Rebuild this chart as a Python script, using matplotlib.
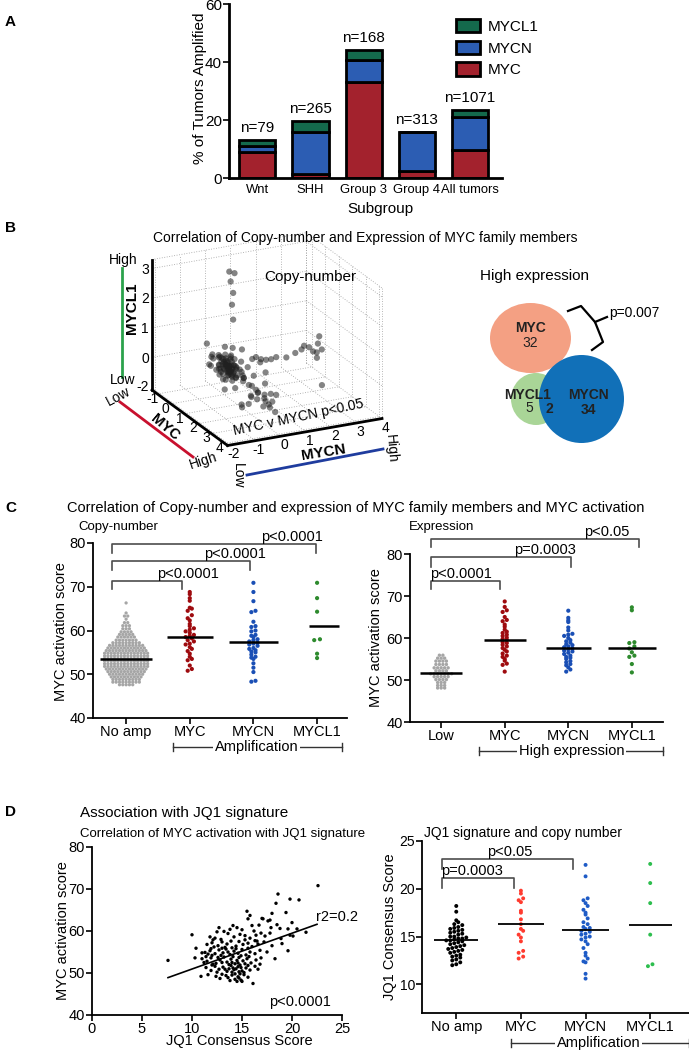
import numpy as np
import matplotlib
matplotlib.use('Agg')
import matplotlib.pyplot as plt
from matplotlib.patches import Ellipse, Patch

plt.rcParams['font.family'] = ['Liberation Sans', 'DejaVu Sans']
plt.rcParams['axes.unicode_minus'] = False

# ---------------- data ----------------
# A: % of tumours amplified per subgroup
subgroups = ['Wnt', 'SHH', 'Group 3', 'Group 4', 'All tumors']
n_tumors = [79, 265, 168, 313, 1071]
amp_myc = [9.0, 1.5, 33.2, 2.4, 9.6]
amp_mycn = [2.1, 14.4, 7.5, 13.5, 11.5]
amp_mycl1 = [2.0, 3.8, 3.4, 0.0, 2.3]

# B: copy-number (MYC, MYCN, MYCL1) per tumour
cn_points = [
    (0.2, 0.1, 3.1), (0.4, 0.2, 3.1), (0.3, 0.1, 2.8), (0.3, 0.2, 2.4), (0.4, 0.1, 2.05), (0.3, 0.2, 1.5),
    (0.3, 1.3, 0.0), (0.3, 1.5, -0.05), (0.3, 1.7, -0.06), (0.3, 1.9, -0.02), (0.3, 2.3, -0.09),
    (0.4, 2.6, 0.05), (0.3, 2.9, 0.09), (0.3, 3.0, 0.2), (0.3, 3.2, 0.12), (0.4, 3.3, 0.0),
    (0.3, 3.5, -0.1), (0.2, 3.6, 0.15), (0.3, 3.7, -0.03), (0.3, 3.6, 0.43), (0.5, 3.4, -0.2),
    (2.0, 2.8, -0.53),
    (2.5, 0.0, -0.2), (2.8, 0.1, -0.3), (3.0, 0.0, -0.1), (3.2, 0.2, -0.3), (3.4, 0.0, -0.4),
    (3.1, -0.1, -0.45), (2.7, 0.2, -0.45), (3.6, 0.1, -0.5), (2.9, 0.3, -0.15), (2.4, -0.2, -0.35),
    (3.3, 0.3, -0.05), (3.5, -0.1, -0.25),
    (0.0, 0.0, 0.0), (0.2, 0.1, -0.1), (0.4, -0.1, -0.15), (0.1, 0.2, 0.1), (0.3, 0.0, -0.25),
    (0.5, 0.1, 0.05), (-0.2, 0.0, -0.05), (0.0, -0.2, -0.2), (0.6, 0.0, -0.3), (0.2, 0.3, -0.1),
    (-0.1, 0.1, 0.2), (0.4, 0.2, 0.2), (0.7, -0.1, -0.05), (0.1, -0.1, -0.35), (0.3, 0.2, -0.3),
    (-0.3, 0.2, -0.2), (0.8, 0.1, -0.2), (0.5, -0.2, -0.4), (0.0, 0.3, -0.3), (-0.4, 0.0, 0.1),
    (0.9, 0.0, 0.05), (0.2, -0.3, 0.0), (0.6, 0.3, -0.1), (-0.2, -0.2, -0.3), (0.3, 0.1, 0.25),
    (0.1, 0.0, -0.1), (0.4, 0.0, 0.0), (0.2, 0.1, -0.2), (0.0, 0.1, -0.15), (0.35, -0.05, 0.1),
    (-0.5, 0.1, 0.0), (-0.6, -0.2, -0.3), (-0.5, 0.3, 0.3), (1.0, 0.2, -0.15), (-0.3, -0.3, 0.2),
    (0.7, 0.3, 0.2), (0.15, 0.05, -0.05), (0.25, -0.15, -0.1), (0.45, 0.15, -0.2), (-0.15, 0.15, 0.05),
    (0.05, 0.05, 0.05), (0.1, -0.05, -0.2), (0.3, 0.05, -0.05), (0.5, 0.0, -0.15), (-0.1, 0.0, -0.1),
    (0.2, 0.2, 0.05), (0.35, 0.1, -0.35), (0.55, 0.05, -0.25), (0.0, -0.1, 0.15), (-0.25, 0.1, 0.0),
    (0.15, -0.2, -0.25), (0.4, 0.25, -0.05), (0.6, -0.05, 0.1), (0.25, 0.0, 0.1), (-0.05, 0.2, -0.25),
    (0.45, -0.1, -0.3), (0.7, 0.1, -0.3), (0.1, 0.15, -0.3), (-0.2, -0.1, 0.1), (0.3, -0.2, -0.45),
    (0.05, 0.25, 0.2), (0.5, 0.2, -0.4), (0.8, -0.1, -0.35), (-0.35, 0.05, -0.35), (0.65, 0.15, 0.0),
    (0.2, -0.05, 0.0), (0.4, 0.1, -0.1), (0.15, 0.1, -0.4), (-0.1, -0.15, -0.1), (0.55, -0.15, -0.05),
    (1.1, 0.2, -0.2), (1.2, -0.2, -0.45), (1.0, 0.4, 0.1), (0.8, -0.4, -0.6), (-0.3, 0.5, 0.3),
    (0.5, 0.5, -0.45), (1.3, 0.0, 0.1), (-0.8, 0.0, -0.15), (0.0, -0.5, 0.25), (0.6, -0.5, -0.15),
    (1.5, 0.3, -0.35), (1.6, -0.1, -0.1), (0.9, 0.5, -0.55), (-0.4, 0.4, -0.55), (0.2, 0.6, 0.4),
    (1.8, 0.1, -0.55), (2.0, 0.2, -0.3), (1.7, 0.4, -0.75), (2.2, -0.2, -0.65), (1.4, 0.6, -0.65),
    (2.1, 0.5, -0.1), (0.7, 0.8, -0.35), (1.9, -0.3, -0.85), (-0.9, -0.2, 0.35), (0.4, 0.9, 0.1),
    (1.2, 1.0, -0.1), (-1.1, 0.0, -0.45), (1.3, 0.0, -1.0), (0.3, 1.27, -0.1), (0.3, 1.1, 0.1),
]
cn_lims = [(-1.4, 4.2), (-2.1, 4.0), (-1.1, 3.3)]
myc_ticks = [-1, 0, 1, 2, 3, 4]
mycn_ticks = [-2, -1, 0, 1, 2, 3, 4]
mycl1_ticks = [0, 1, 2, 3]

# B: Venn of high expression
venn_counts = {'MYC': 32, 'MYCL1': 5, 'MYCL1&MYCN': 2, 'MYCN': 34}
venn_p = 'p=0.007'

# C: MYC activation score
groups_amp = ['No amp', 'MYC', 'MYCN', 'MYCL1']
groups_expr = ['Low', 'MYC', 'MYCN', 'MYCL1']
noamp_levels = [47.6, 48.2, 48.8, 49.4, 50.0, 50.6, 51.2, 51.8, 52.4, 53.0, 53.6, 54.2, 54.8, 55.4,
                56.0, 56.6, 57.2, 57.8, 58.5, 59.1, 59.7, 60.4, 61.1, 61.8, 62.6, 63.3, 64.0, 66.3]
noamp_counts = [5, 9, 9, 10, 11, 12, 13, 14, 14, 14, 14, 14, 14, 13,
                12, 11, 9, 7, 6, 5, 4, 3, 3, 2, 1, 2, 1, 1]
amp_myc_score = [68.8, 68.3, 67.4, 66.8, 65.2, 65.0, 64.5, 63.5, 62.8, 62.3, 61.5, 61.0, 60.5, 60.2,
                 59.8, 59.5, 59.0, 58.8, 58.5, 58.2, 57.8, 57.5, 57.0, 56.8, 56.2, 55.8, 55.3, 54.7,
                 54.0, 53.5, 53.2, 52.0, 51.2, 50.8]
amp_mycn_score = [70.9, 68.8, 66.7, 64.5, 64.2, 62.0, 61.0, 60.8, 60.0, 59.8, 59.0, 58.8, 58.5, 58.0,
                  57.8, 57.5, 57.2, 57.0, 56.8, 56.5, 56.0, 55.8, 55.5, 55.2, 55.0, 54.5, 54.0, 53.8,
                  53.5, 52.5, 51.5, 50.5, 48.5, 48.3]
amp_mycl1_score = [70.9, 67.4, 64.3, 58.0, 57.8, 54.7, 53.7]
amp_means = [53.5, 58.5, 57.3, 61.0]
amp_stats = [(-0.22, 0.88, 71.3, 1.8, 'p<0.0001', 0.97),
             (-0.22, 1.95, 75.9, 2.1, 'p<0.0001', 1.71),
             (-0.22, 2.98, 79.8, 2.1, 'p<0.0001', 2.60)]

low_levels = [48.1, 48.7, 49.4, 50.1, 50.8, 51.5, 52.2, 52.9, 53.7, 54.5, 55.2, 55.9]
low_counts = [3, 3, 3, 4, 5, 7, 4, 5, 4, 4, 3, 2]
hi_myc_score = [68.7, 67.4, 66.6, 66.2, 65.0, 64.3, 64.0, 63.2, 62.7, 62.0, 61.5, 61.2, 60.8, 60.5,
                60.1, 59.8, 59.5, 59.0, 58.8, 58.4, 58.0, 57.6, 57.2, 56.8, 56.3, 55.8, 55.5, 55.0,
                54.6, 53.9, 53.6, 52.0]
hi_mycn_score = [66.5, 64.8, 64.2, 63.8, 62.5, 61.8, 61.0, 60.8, 60.5, 60.0, 59.5, 59.2, 58.9, 58.5,
                 58.3, 58.0, 57.8, 57.5, 57.3, 57.0, 56.8, 56.5, 56.2, 55.8, 55.5, 55.3, 55.0, 54.5,
                 54.2, 53.8, 53.5, 53.0, 52.5, 52.0]
hi_mycl1_score = [67.3, 66.6, 59.0, 58.8, 58.0, 57.5, 56.6, 55.8, 55.5, 53.8, 51.8]
expr_means = [51.6, 59.6, 57.7, 57.6]
expr_stats = [(-0.16, 0.93, 73.6, 1.9, 'p<0.0001', 0.31),
              (-0.16, 2.05, 79.3, 2.3, 'p=0.0003', 1.63),
              (-0.16, 3.12, 83.6, 2.0, 'p<0.05', 2.60)]

# D: JQ1 consensus score vs MYC activation score
jq1_vs_myc = [
    (7.6, 53.0), (10.0, 59.1), (10.4, 55.9), (10.3, 53.6), (10.9, 49.2), (11.6, 49.6), (11.2, 52.5),
    (11.0, 54.8), (12.1, 57.9), (12.5, 59.8), (14.1, 61.3), (14.5, 60.8), (15.5, 64.7), (15.6, 62.9),
    (15.8, 63.7), (16.0, 61.3), (17.1, 62.9), (17.6, 62.4), (16.1, 47.5), (15.0, 48.0), (17.0, 63.0),
    (18.4, 66.6), (18.6, 68.8), (19.8, 67.6), (20.7, 67.4), (22.6, 70.8), (21.4, 59.7), (19.6, 60.5),
    (19.6, 55.3), (18.3, 53.4), (17.2, 57.4), (18.9, 58.2), (19.8, 59.0), (17.8, 62.6), (19.4, 64.4),
    (16.7, 61.4), (18.0, 64.2), (18.8, 60.6), (20.1, 58.8), (17.5, 55.0), (16.8, 52.1), (18.0, 56.5),
    (19.0, 57.0), (20.5, 60.5), (17.3, 58.8), (16.5, 57.6), (17.9, 60.8), (18.5, 61.5), (20.0, 62.0),
    (16.2, 60.0),
    (12.3, 58.3), (12.9, 58.0), (13.6, 59.4), (14.2, 58.6), (14.8, 59.2), (15.3, 58.9), (13.2, 59.9),
    (15.8, 58.3), (16.4, 59.0), (11.8, 58.6),
    (11.5, 56.8), (12.0, 57.2), (12.6, 56.5), (13.0, 57.4), (13.5, 56.9), (13.9, 57.6), (14.4, 56.4),
    (14.7, 57.5), (15.1, 56.8), (15.6, 57.1), (16.0, 56.3), (16.6, 56.9), (12.2, 56.2), (13.3, 56.1),
    (14.0, 56.0), (15.3, 57.9), (11.9, 55.8), (16.3, 57.7),
    (11.3, 54.9), (11.8, 55.3), (12.3, 54.6), (12.7, 55.5), (13.1, 54.8), (13.4, 55.7), (13.8, 54.4),
    (14.2, 55.2), (14.6, 54.7), (15.0, 55.6), (15.4, 54.3), (15.8, 55.0), (16.3, 54.6), (12.0, 54.2),
    (13.6, 55.0), (14.9, 54.1), (12.9, 54.2), (14.4, 55.8), (15.6, 55.9), (11.6, 54.5), (13.0, 55.9),
    (16.8, 55.4),
    (11.0, 53.4), (11.5, 52.8), (11.9, 53.6), (12.4, 52.3), (12.8, 53.1), (13.2, 53.8), (13.5, 52.6),
    (13.9, 53.3), (14.3, 52.2), (14.7, 53.7), (15.1, 52.9), (15.5, 53.4), (15.9, 52.4), (16.4, 53.1),
    (12.1, 52.1), (13.7, 52.0), (14.5, 53.0), (15.3, 52.2), (12.6, 53.7), (14.1, 53.9), (11.4, 53.9),
    (16.9, 53.6), (13.0, 52.5), (15.7, 53.9),
    (11.4, 51.3), (11.9, 50.6), (12.3, 51.6), (12.7, 50.9), (13.1, 51.4), (13.5, 50.4), (13.9, 51.8),
    (14.2, 50.8), (14.6, 51.5), (15.0, 50.5), (15.4, 51.2), (15.8, 50.7), (16.3, 51.6), (12.5, 50.2),
    (14.0, 50.2), (14.8, 51.9), (13.3, 50.9), (15.6, 51.8), (12.0, 51.9), (16.6, 50.9),
    (12.4, 49.2), (13.0, 49.7), (13.6, 48.9), (14.0, 49.5), (14.3, 48.5), (14.6, 49.1), (14.9, 48.3),
    (15.2, 49.6), (13.8, 48.2), (14.5, 48.0), (15.6, 49.0), (12.8, 48.7), (14.8, 49.8), (13.4, 49.4),
    (14.4, 51.0), (14.7, 50.3), (14.9, 51.3), (14.1, 51.2), (14.6, 52.4), (14.3, 49.8), (14.7, 48.8),
    (15.2, 50.1), (13.7, 51.0), (14.0, 52.5),
    (13.8, 60.4), (12.7, 60.8), (15.0, 60.3), (16.9, 59.5), (17.8, 59.5),
]
fit_x = [7.6, 22.5]
fit_y = [48.9, 61.6]

jq1_noamp = [18.2, 17.6, 16.5, 16.3, 16.0, 15.9, 15.8, 15.7, 15.6, 15.5, 15.3, 15.2, 15.0, 15.0, 14.9,
             14.8, 14.8, 14.7, 14.6, 14.5, 14.4, 14.3, 14.2, 14.1, 14.0, 13.9, 13.8, 13.7, 13.5, 13.4,
             13.3, 13.1, 13.0, 12.9, 12.8, 12.6, 12.5, 12.3, 12.1, 12.0, 16.7, 16.2, 15.4, 14.6, 13.6]
jq1_myc = [19.8, 19.5, 19.0, 18.8, 18.6, 17.7, 17.5, 16.8, 16.3, 15.8, 15.6, 15.2, 14.9, 14.5, 13.5,
           13.3, 12.9, 12.7]
jq1_mycn = [22.5, 21.3, 19.0, 18.8, 18.5, 18.2, 17.8, 17.5, 17.3, 16.9, 16.5, 16.3, 16.0, 15.9, 15.8,
            15.6, 15.5, 15.3, 15.2, 15.0, 14.9, 14.7, 14.5, 14.2, 13.8, 13.3, 13.0, 12.7, 12.4, 12.3,
            11.1, 10.6]
jq1_mycl1 = [22.6, 20.6, 18.5, 15.2, 12.1, 11.9]
jq1_means = [14.6, 16.3, 15.7, 16.2]
jq1_stats = [(-0.22, 0.90, 21.1, 1.05, 'p=0.0003', 0.25),
             (-0.22, 1.80, 23.1, 1.0, 'p<0.05', 0.82)]

# ---------------- figure ----------------
W, H = 689, 1050
fig = plt.figure(figsize=(W / 100, H / 100), dpi=100)


def box(l, t, r, b):
    return [l / W, 1 - b / H, (r - l) / W, (b - t) / H]


ov = fig.add_axes([0, 0, 1, 1], zorder=10)
ov.set_xlim(0, W)
ov.set_ylim(H, 0)
ov.axis('off')


def label(x, y, s, size=10, ha='center', va='center', **kw):
    ov.text(x, y, s, fontsize=size, ha=ha, va=va, **kw)


def style(ax, lw=1.3, size=10.5):
    for s in ['top', 'right']:
        ax.spines[s].set_visible(False)
    for s in ['left', 'bottom']:
        ax.spines[s].set_linewidth(lw)
    ax.tick_params(length=4, width=1.2, labelsize=size, pad=1)


def dot_rows(ax, levels, counts, xc, dx, **kw):
    xs, ys = [], []
    for lv, n in zip(levels, counts):
        xs += list(xc + (np.arange(n) - (n - 1) / 2) * dx)
        ys += [lv] * n
    ax.scatter(xs, ys, edgecolors='none', zorder=3, **kw)


def swarm(ax, vals, xc, dx, row, **kw):
    v = np.sort(np.asarray(vals, float))
    keys = np.floor((v - v[0]) / row)
    xs = np.zeros_like(v)
    for k in np.unique(keys):
        idx = np.where(keys == k)[0]
        n = len(idx)
        xs[idx] = xc + (np.arange(n) - (n - 1) / 2) * dx
    ax.scatter(xs, v, edgecolors='none', zorder=3, **kw)


def brackets(ax, stats, size=10.5):
    for x0, x1, y, h, txt, tx in stats:
        ax.plot([x0, x0, x1, x1], [y - h, y, y, y - h], color='0.3', lw=1.2, clip_on=False)
        ax.text(tx, y, txt, ha='center', va='bottom', fontsize=size, clip_on=False)


def group_line(ax, x0, x1, y, txt, tx, cap=0.022):
    tr = ax.get_xaxis_transform()
    ax.plot([x0, x1], [y, y], transform=tr, color='0.2', lw=1, clip_on=False)
    for xx in (x0, x1):
        ax.plot([xx, xx], [y - cap, y + cap], transform=tr, color='0.2', lw=1, clip_on=False)
    ax.text(tx, y, txt, transform=tr, ha='center', va='center', fontsize=10.5, clip_on=False,
            bbox=dict(fc='white', ec='none', pad=1.5))


# ---- A ----
c_myc, c_mycn, c_mycl1 = '#A3222D', '#2C5DB3', '#14694C'
axA = fig.add_axes(box(229, 4, 502, 178))
xa = np.arange(len(subgroups))
kw = dict(width=0.68, edgecolor='black', linewidth=2, zorder=2)
axA.bar(xa, amp_myc, color=c_myc, **kw)
axA.bar(xa, amp_mycn, bottom=amp_myc, color=c_mycn, **kw)
base = np.add(amp_myc, amp_mycn)
axA.bar(xa, amp_mycl1, bottom=base, color=c_mycl1, **kw)
tops = base + np.array(amp_mycl1)
for i, n in enumerate(n_tumors):
    axA.text(xa[i], tops[i] + 1.6, f'n={n}', ha='center', va='bottom', fontsize=11)
axA.set_xlim(-0.53, 4.6)
axA.set_ylim(0, 60)
axA.set_yticks([0, 20, 40, 60])
axA.set_xticks(xa, subgroups)
style(axA, 2)
axA.tick_params(labelsize=11)
axA.tick_params(axis='x', length=0, pad=4, labelsize=9.4)
handles = [Patch(facecolor=c, edgecolor='black', linewidth=2, label=l)
           for c, l in [(c_mycl1, 'MYCL1'), (c_mycn, 'MYCN'), (c_myc, 'MYC')]]
axA.legend(handles=handles, loc='upper left', bbox_to_anchor=(456 / W, 1 - 19 / H),
           bbox_transform=fig.transFigure, frameon=False, fontsize=11, handlelength=1.55,
           handleheight=0.95, handletextpad=0.5, labelspacing=0.45, borderaxespad=0, borderpad=0)
label(200, 88, '% of Tumors Amplified', 11, rotation=90)
label(380, 209, 'Subgroup', 11)
label(5, 22, 'A', 11, ha='left', weight='bold')

# ---- B: 3D copy-number ----
ax3 = fig.add_axes([0.05, 0.55, 0.4, 0.4 * W / H], projection='3d')
ax3.set_proj_type('ortho')
ax3.view_init(elev=21, azim=-26)
ax3.set_box_aspect((169, 168.5, 137))
(x0, x1), (y0, y1), (z0, z1) = cn_lims
ax3.set_xlim(x0, x1)
ax3.set_ylim(y0, y1)
ax3.set_zlim(z0, z1)
ax3.set_xticks([])
ax3.set_yticks([])
ax3.set_zticks([])
ax3.set_axis_off()
ax3.patch.set_alpha(0)

gkw = dict(color='0.62', lw=0.6, ls=(0, (1, 2)))
for zt in mycl1_ticks + [z1]:
    ax3.plot([x0, x0], [y0, y1], [zt, zt], **gkw)
    ax3.plot([x0, x1], [y1, y1], [zt, zt], **gkw)
for yt in mycn_ticks:
    ax3.plot([x0, x0], [yt, yt], [z0, z1], **gkw)
    ax3.plot([x0, x1], [yt, yt], [z0, z0], **gkw)
for xt in myc_ticks + [x1]:
    ax3.plot([xt, xt], [y1, y1], [z0, z1], **gkw)
    ax3.plot([xt, xt], [y0, y1], [z0, z0], **gkw)
ax3.plot([x0, x0], [y1, y1], [z0, z1], **gkw)

px, py, pz = zip(*cn_points)
ax3.scatter(px, py, pz, s=20, c='#202020', alpha=0.55, depthshade=False, edgecolors='none')

akw = dict(color='black', lw=2)
ax3.plot([x0, x0], [y0, y0], [z0, z1], **akw)
ax3.plot([x0, x1], [y0, y0], [z0, z0], **akw)
ax3.plot([x1, x1], [y0, y1], [z0, z0], **akw)

# tick labels: anchored at 3D points, written after the box is placed
tick3d = [((x0, y0 - 0.28, zt), str(zt)) for zt in mycl1_ticks]
tick3d += [((x0, y0 - 0.38, z0 + 0.17), '-2')]
tick3d += [((xt, y0 - 0.2, z0 - 0.13), str(xt)) for xt in myc_ticks]
tick3d += [((x1 + 0.25, yt, z0 - 0.22), str(yt)) for yt in mycn_ticks]

# axis names and low/high guides
ov.plot([122, 122], [268, 377], color='#2BA24C', lw=2)
ov.plot([120, 193], [402, 457], color='#C8102E', lw=2)
ov.plot([247, 383], [475, 449], color='#1F3C9E', lw=2)
label(123, 260, 'High', 10)
label(123, 380, 'Low', 10)
label(118, 396, 'Low', 10, rotation=28)
label(203, 461, 'High', 10, rotation=18)
label(238, 476, 'Low', 10, rotation=-90)
label(391, 449, 'High', 10, rotation=-85)
label(132, 308, 'MYCL1', 11, rotation=90, weight='bold')
label(165, 427, 'MYC', 10.5, rotation=-40, weight='bold')
label(323, 453, 'MYCN', 11, rotation=9, weight='bold')
label(310, 277, 'Copy-number', 11)
label(298, 417, 'MYC v MYCN p<0.05', 10, rotation=12)
label(365, 238, 'Correlation of Copy-number and Expression of MYC family members', 10)
label(5, 228, 'B', 11, ha='left', weight='bold')

# ---- B: Venn ----
axV = fig.add_axes(box(470, 290, 660, 460))
axV.set_xlim(470, 660)
axV.set_ylim(460, 290)
axV.axis('off')
axV.add_patch(Ellipse((530.5, 338), 81, 70, color='#F4A083', lw=0))
axV.add_patch(Ellipse((536, 399), 50, 52, color='#A9D597', lw=0))
axV.add_patch(Ellipse((581.5, 399), 85, 88, color='#1170B8', lw=0))
tk = dict(fontsize=10, ha='center', va='center', color='#222222')
axV.text(531, 328, 'MYC', weight='bold', **tk)
axV.text(530, 343, str(venn_counts['MYC']), **tk)
axV.text(528, 395, 'MYCL1', weight='bold', **tk)
axV.text(529, 408, str(venn_counts['MYCL1']), **tk)
axV.text(549, 409, str(venn_counts['MYCL1&MYCN']), weight='bold', **tk)
axV.text(588, 395, 'MYCN', weight='bold', **tk)
axV.text(588, 410, str(venn_counts['MYCN']), weight='bold', **tk)
axV.plot([568, 581, 595, 603, 592], [311, 306, 322, 342, 350], color='black', lw=1.6, clip_on=False)
axV.plot([595, 607], [322, 317], color='black', lw=1.6, clip_on=False)
axV.text(609, 313, venn_p, fontsize=10, ha='left', va='center')
label(480, 276, 'High expression', 11, ha='left')

# ---- C left: copy-number ----
col_gray, col_red, col_blue, col_green = '#A6A6A6', '#9E0B0F', '#1A4FB5', '#2E8B2E'
axC1 = fig.add_axes(box(93, 543, 347, 718))
dot_rows(axC1, noamp_levels, noamp_counts, 0, 0.052, s=5.5, color=col_gray)
swarm(axC1, amp_myc_score, 1, 0.065, 0.75, s=9, color=col_red)
swarm(axC1, amp_mycn_score, 2, 0.065, 0.75, s=9, color=col_blue)
swarm(axC1, amp_mycl1_score, 3, 0.09, 0.75, s=9, color=col_green)
for i, (m, hw) in enumerate(zip(amp_means, [0.41, 0.36, 0.38, 0.24])):
    xc = i + (0.11 if i == 3 else 0)
    axC1.hlines(m, xc - hw, xc + hw, color='black', lw=1.8, zorder=4)
axC1.set_xlim(-0.52, 3.47)
axC1.set_ylim(40, 80)
axC1.set_yticks([40, 50, 60, 70, 80])
axC1.set_xticks(range(4), groups_amp)
style(axC1)
brackets(axC1, amp_stats)
group_line(axC1, 0.74, 3.39, -0.166, 'Amplification', 2.05)
label(61, 632, 'MYC activation score', 10.5, rotation=90)
label(78, 527, 'Copy-number', 9.5, ha='left')

# ---- C right: expression ----
axC2 = fig.add_axes(box(410, 554, 663, 722))
dot_rows(axC2, low_levels, low_counts, 0, 0.055, s=6, color=col_gray)
swarm(axC2, hi_myc_score, 1, 0.065, 0.7, s=9, color=col_red)
swarm(axC2, hi_mycn_score, 2, 0.065, 0.7, s=9, color=col_blue)
swarm(axC2, hi_mycl1_score, 3, 0.08, 0.7, s=9, color=col_green)
for i, (m, hw) in enumerate(zip(expr_means, [0.33, 0.33, 0.35, 0.38])):
    axC2.hlines(m, i - hw, i + hw, color='black', lw=1.8, zorder=4)
axC2.set_xlim(-0.49, 3.49)
axC2.set_ylim(40, 80)
axC2.set_yticks([40, 50, 60, 70, 80])
axC2.set_xticks(range(4), groups_expr)
style(axC2)
brackets(axC2, expr_stats)
group_line(axC2, 0.60, 3.49, -0.173, 'High expression', 2.05)
label(376, 638, 'MYC activation score', 10.5, rotation=90)
label(409, 527, 'Expression', 9.5, ha='left')
label(356, 508, 'Correlation of Copy-number and expression of MYC family members and MYC activation', 10.5)
label(5, 508, 'C', 11, ha='left', weight='bold')

# ---- D left: scatter ----
axD1 = fig.add_axes(box(92, 847, 342, 1015))
jx, jy = zip(*jq1_vs_myc)
axD1.scatter(jx, jy, s=6, color='black', edgecolors='none', zorder=3)
axD1.plot(fit_x, fit_y, color='black', lw=1.2, zorder=4)
axD1.text(22.4, 63.3, 'r2=0.2', fontsize=10.5, ha='left', va='center')
axD1.text(20.75, 43.1, 'p<0.0001', fontsize=10.5, ha='center', va='center')
axD1.set_xlim(0, 25)
axD1.set_ylim(40, 80)
axD1.set_xticks([0, 5, 10, 15, 20, 25])
axD1.set_yticks([40, 50, 60, 70, 80])
style(axD1)
label(63, 931, 'MYC activation score', 10.5, rotation=90)
label(239, 1041, 'JQ1 Consensus Score', 10.5)
label(80, 813, 'Association with JQ1 signature', 11, ha='left')
label(80, 834, 'Correlation of MYC activation with JQ1 signature', 9.5, ha='left')
label(5, 812, 'D', 11, ha='left', weight='bold')

# ---- D right: JQ1 vs copy number ----
axD2 = fig.add_axes(box(422, 841, 689, 1013))
swarm(axD2, jq1_noamp, 0, 0.062, 0.42, s=8, color='black')
swarm(axD2, jq1_myc, 1, 0.07, 0.5, s=8, color='#FF3B2F')
swarm(axD2, jq1_mycn, 2, 0.065, 0.45, s=8, color='#1E5BC6')
swarm(axD2, jq1_mycl1, 3, 0.07, 0.5, s=8, color='#2DBE4E')
for i, (m, hw) in enumerate(zip(jq1_means, [0.34, 0.36, 0.36, 0.33])):
    axD2.hlines(m, i - hw, i + hw, color='black', lw=1.3, zorder=4)
axD2.set_xlim(-0.53, 3.6)
axD2.set_ylim(7, 25)
axD2.set_yticks([10, 15, 20, 25])
axD2.set_xticks(range(4), groups_amp)
style(axD2)
axD2.tick_params(axis='y', labelsize=10)
brackets(axD2, jq1_stats)
group_line(axD2, 0.84, 3.6, -0.174, 'Amplification', 2.2)
label(390, 927, 'JQ1 Consensus Score', 10.5, rotation=90)
label(424, 833, 'JQ1 signature and copy number', 10, ha='left')


# ---- place the 3D box so its base corners sit where the reference has them ----
def project(ax, p):
    v = ax.get_proj() @ np.array([p[0], p[1], p[2], 1.0])
    return ax.transData.transform((v[0] / v[3], v[1] / v[3]))


def fit_3d(ax, corners, targets):
    fig.canvas.draw()
    bb = ax.bbox
    fr = []
    for c in corners:
        d = project(ax, c)
        fr.append(((d[0] - bb.x0) / bb.width, (d[1] - bb.y0) / bb.height))
    (ua, va), (ub, vb) = fr
    (tax, tay), (tbx, tby) = [(x, H - y) for x, y in targets]
    side = (tbx - tax) / (ub - ua)
    ax.set_position([(tax - ua * side) / W, (tay - va * side) / H, side / W, side / H])


fit_3d(ax3, [(x0, y0, z0), (x1, y1, z0)], [(152, 390), (382, 418)])
fig.canvas.draw()
for p, s in tick3d:
    dx, dy = project(ax3, p)
    label(dx, H - dy, s, 10)

fig.savefig('out.png', dpi=100)
